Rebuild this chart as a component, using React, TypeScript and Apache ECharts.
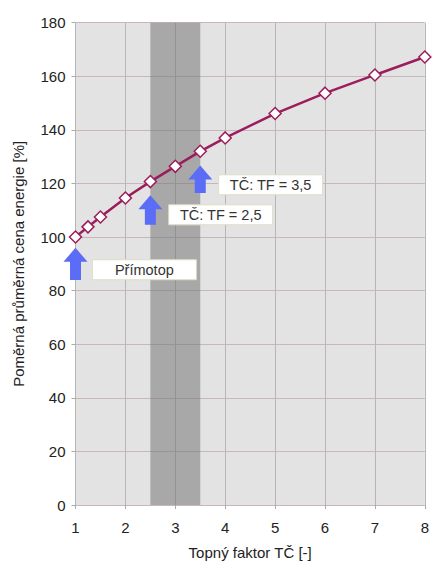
import React, { useEffect, useRef } from "react";
import * as echarts from "echarts";

const xValues = [1, 1.25, 1.5, 2, 2.5, 3, 3.5, 4, 5, 6, 7, 8];
const yValues = [100, 103.8, 107.5, 114.6, 120.7, 126.4, 132, 137, 146.1, 153.7, 160.5, 167.2];

const bandRange = [2.5, 3.5];

const arrowX = [1, 2.5, 3.5];
const arrowTip = [96, 115.6, 126.7];
const arrowBase = [84, 104.6, 116.4];

const labelTexts = ["Přímotop", "TČ: TF = 2,5", "TČ: TF = 3,5"];
const labelX = [2.38, 3.91, 4.91];
const labelY = [87.8, 108.3, 119.5];

const xTicks = { min: 1, max: 8, interval: 1 };
const yTicks = { min: 0, max: 180, interval: 20 };

const FONT = "'Liberation Sans', Arial, sans-serif";

export default function App() {
  const ref = useRef<HTMLDivElement>(null);
  useEffect(() => {
    if (!ref.current) return;
    const chart = echarts.init(ref.current, null, { renderer: "svg" });
    const lineColor = "#9c1d5c";
    chart.setOption({
      animation: false,
      backgroundColor: "#ffffff",
      grid: {
        left: 75.5,
        right: 5,
        top: 22.7,
        bottom: 54,
        show: true,
        backgroundColor: "#e3e3e3",
        borderColor: "#d4d4d4",
        borderWidth: 0,
      },
      xAxis: {
        type: "value",
        min: xTicks.min,
        max: xTicks.max,
        interval: xTicks.interval,
        name: "Topný faktor TČ [-]",
        nameLocation: "middle",
        nameGap: 40,
        nameTextStyle: { fontFamily: FONT, fontSize: 15, color: "#222" },
        axisLine: { show: false },
        axisTick: { show: true, length: 4, lineStyle: { color: "#aaa" } },
        axisLabel: { fontFamily: FONT, fontSize: 15, color: "#222", margin: 15 },
        splitLine: { show: true, lineStyle: { color: "#b6b6b6", width: 1 } },
      },
      yAxis: {
        type: "value",
        min: yTicks.min,
        max: yTicks.max,
        interval: yTicks.interval,
        name: "Poměrná průměrná cena energie [%]",
        nameLocation: "middle",
        nameGap: 50,
        nameTextStyle: { fontFamily: FONT, fontSize: 15, color: "#222" },
        axisLine: { show: false },
        axisTick: { show: true, length: 4, lineStyle: { color: "#aaa" } },
        axisLabel: { fontFamily: FONT, fontSize: 15, color: "#222", margin: 10 },
        splitLine: { show: true, lineStyle: { color: "#c6b6be", width: 1 } },
      },
      series: [
        {
          type: "line",
          data: xValues.map((x, i) => [x, yValues[i]]),
          symbol: "diamond",
          symbolSize: 12,
          lineStyle: { color: lineColor, width: 2.5 },
          itemStyle: { color: "#ffffff", borderColor: lineColor, borderWidth: 1.5 },
          z: 5,
          markArea: {
            silent: true,
            itemStyle: { color: "rgba(110,110,110,0.5)" },
            data: [[{ xAxis: bandRange[0] }, { xAxis: bandRange[1] }]],
          },
        },
        {
          type: "custom",
          data: arrowX.map((x, i) => [x, arrowTip[i], arrowBase[i]]),
          z: 6,
          renderItem: (params: any, api: any) => {
            const tip = api.coord([api.value(0), api.value(1)]);
            const base = api.coord([api.value(0), api.value(2)]);
            const cx = tip[0];
            const hw = 12;
            const sw = 5.5;
            const hh = 14;
            return {
              type: "polygon",
              shape: {
                points: [
                  [cx, tip[1]],
                  [cx + hw, tip[1] + hh],
                  [cx + sw, tip[1] + hh],
                  [cx + sw, base[1]],
                  [cx - sw, base[1]],
                  [cx - sw, tip[1] + hh],
                  [cx - hw, tip[1] + hh],
                ],
              },
              style: { fill: "#5b6cf6" },
            };
          },
        },
        {
          type: "custom",
          data: labelX.map((x, i) => [x, labelY[i]]),
          z: 7,
          renderItem: (params: any, api: any) => {
            const c = api.coord([api.value(0), api.value(1)]);
            const w = 104;
            const h = 20;
            return {
              type: "group",
              children: [
                {
                  type: "rect",
                  shape: { x: c[0] - w / 2, y: c[1] - h / 2, width: w, height: h },
                  style: { fill: "#ffffff", stroke: "#deddc4", lineWidth: 1 },
                },
                {
                  type: "text",
                  x: c[0],
                  y: c[1],
                  style: {
                    text: labelTexts[params.dataIndex],
                    align: "center",
                    verticalAlign: "middle",
                    textAlign: "center",
                    textVerticalAlign: "middle",
                    fill: "#333",
                    fontSize: 14.5,
                    fontFamily: FONT,
                  },
                },
              ],
            };
          },
        },
      ],
    });
    return () => chart.dispose();
  }, []);
  return (
    <div
      ref={ref}
      style={{ position: "fixed", left: 0, top: 0, width: 432, height: 565, background: "#fff" }}
    />
  );
}
